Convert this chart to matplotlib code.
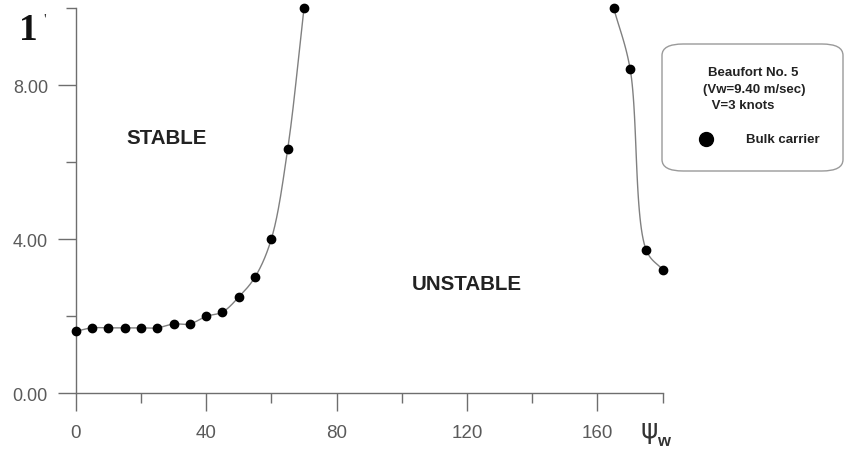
import numpy as np
import matplotlib
matplotlib.use("Agg")
import matplotlib.pyplot as plt
from matplotlib.patches import FancyBboxPatch
from matplotlib.ticker import MultipleLocator, FormatStrFormatter

# Wind heading angle psi_w (deg) and critical value
psi_left = [0, 5, 10, 15, 20, 25, 30, 35, 40, 45, 50, 55, 60, 65, 70]
val_left = [1.61, 1.70, 1.70, 1.70, 1.70, 1.70, 1.80, 1.80, 2.00, 2.11, 2.50, 3.02, 4.01, 6.34, 10.0]

psi_right = [165, 170, 175, 180]
val_right = [10.0, 8.43, 3.71, 3.21]

legend_lines = ["Beaufort No. 5", "(Vw=9.40 m/sec)", " V=3 knots"]
legend_label = "Bulk carrier"

W, H = 846, 456
line_col = "#808080"
axis_col = "#6e6e6e"
text_col = "#5a5a5a"


# Centripetal Catmull-Rom curve through the points, only used to draw the
# smooth connecting line (worked out in roughly pixel-like units)
def smooth(xs, ys, sx, sy, n=30):
    p = np.column_stack([np.asarray(xs, float) * sx, np.asarray(ys, float) * sy])
    p = np.vstack([2 * p[0] - p[1], p, 2 * p[-1] - p[-2]])
    out = []
    for i in range(1, len(p) - 2):
        p0, p1, p2, p3 = p[i - 1], p[i], p[i + 1], p[i + 2]
        t0 = 0.0
        t1 = t0 + np.linalg.norm(p1 - p0) ** 0.5
        t2 = t1 + np.linalg.norm(p2 - p1) ** 0.5
        t3 = t2 + np.linalg.norm(p3 - p2) ** 0.5
        t = np.linspace(t1, t2, n)[:, None]
        a1 = (t1 - t) / (t1 - t0) * p0 + (t - t0) / (t1 - t0) * p1
        a2 = (t2 - t) / (t2 - t1) * p1 + (t - t1) / (t2 - t1) * p2
        a3 = (t3 - t) / (t3 - t2) * p2 + (t - t2) / (t3 - t2) * p3
        b1 = (t2 - t) / (t2 - t0) * a1 + (t - t0) / (t2 - t0) * a2
        b2 = (t3 - t) / (t3 - t1) * a2 + (t - t1) / (t3 - t1) * a3
        c = (t2 - t) / (t2 - t1) * b1 + (t - t1) / (t2 - t1) * b2
        out.append(c)
    c = np.vstack(out)
    return c[:, 0] / sx, c[:, 1] / sy


fig = plt.figure(figsize=(W / 100, H / 100), dpi=100)
ax = fig.add_axes([75.7 / W, (H - 394.3) / H, 587 / W, 385 / H])

sx, sy = 587 / 180, 385 / 10
for xs, ys in [(psi_left, val_left), (psi_right, val_right)]:
    cx, cy = smooth(xs, ys, sx, sy)
    ax.plot(cx, cy, color=line_col, lw=1.0, clip_on=False, zorder=2)
    ax.plot(xs, ys, "o", color="black", ms=6, clip_on=False, zorder=3)

ax.set_xlim(0, 180)
ax.set_ylim(0, 10)

for s in ["top", "right"]:
    ax.spines[s].set_visible(False)
for s in ["left", "bottom"]:
    ax.spines[s].set_color(axis_col)
    ax.spines[s].set_linewidth(1.0)

ax.xaxis.set_major_locator(MultipleLocator(40))
ax.xaxis.set_minor_locator(MultipleLocator(20))
ax.yaxis.set_major_locator(MultipleLocator(4))
ax.yaxis.set_minor_locator(MultipleLocator(2))
ax.yaxis.set_major_formatter(FormatStrFormatter("%.2f"))

ax.tick_params(axis="both", which="major", length=13, width=1.0, color=axis_col)
ax.tick_params(axis="both", which="minor", length=7, width=1.0, color=axis_col)
ax.tick_params(axis="x", which="major", pad=9, labelcolor=text_col)
ax.tick_params(axis="y", which="major", pad=7, labelcolor=text_col)
for lab in ax.get_xticklabels():
    lab.set_family("Liberation Sans")
    lab.set_fontsize(13.5)
for lab in ax.get_yticklabels():
    lab.set_family("Liberation Sans")
    lab.set_fontsize(13)

# region labels
ax.text(27.8, 6.65, "STABLE", ha="center", va="center", fontsize=14.8,
        fontweight="bold", family="Liberation Sans", color="#222222")
ax.text(119.9, 2.85, "UNSTABLE", ha="center", va="center", fontsize=14.8,
        fontweight="bold", family="Liberation Sans", color="#222222")

# stray axis label at the top left and the psi_w label
fig.text(28 / W, 1 - 30 / H, "1", ha="center", va="center", fontsize=27,
         fontweight="bold", family="Liberation Serif", color="#111111")
fig.text(45 / W, 1 - 20 / H, "'", ha="center", va="center", fontsize=11,
         family="Liberation Serif", color="#333333")
fig.text(649 / W, 1 - 431 / H, "ψ", ha="center", va="center", fontsize=19,
         family="DejaVu Sans", color="#333333")
fig.text(663 / W, 1 - 442 / H, "w", ha="center", va="center", fontsize=12,
         fontweight="bold", family="Liberation Sans", color="#333333")

# legend box
box = FancyBboxPatch((662 / W, (H - 172) / H), 181 / W, 127 / H,
                     boxstyle="round,pad=0,rounding_size=0.025",
                     transform=fig.transFigure, facecolor="white",
                     edgecolor="#9a9a9a", lw=1.0)
fig.patches.append(box)
for txt, (px, py) in zip(legend_lines, [(708, 73), (703, 90), (708, 106)]):
    fig.text(px / W, 1 - py / H, txt, ha="left", va="center", fontsize=9.5,
             fontweight="bold", family="Liberation Sans", color="#222222")
fig.lines.append(plt.Line2D([706 / W], [1 - 140 / H], marker="o", ms=10,
                            color="black", transform=fig.transFigure))
fig.text(746 / W, 1 - 140 / H, legend_label, ha="left", va="center", fontsize=9.5,
         fontweight="bold", family="Liberation Sans", color="#222222")

fig.savefig("out.png", dpi=100)
